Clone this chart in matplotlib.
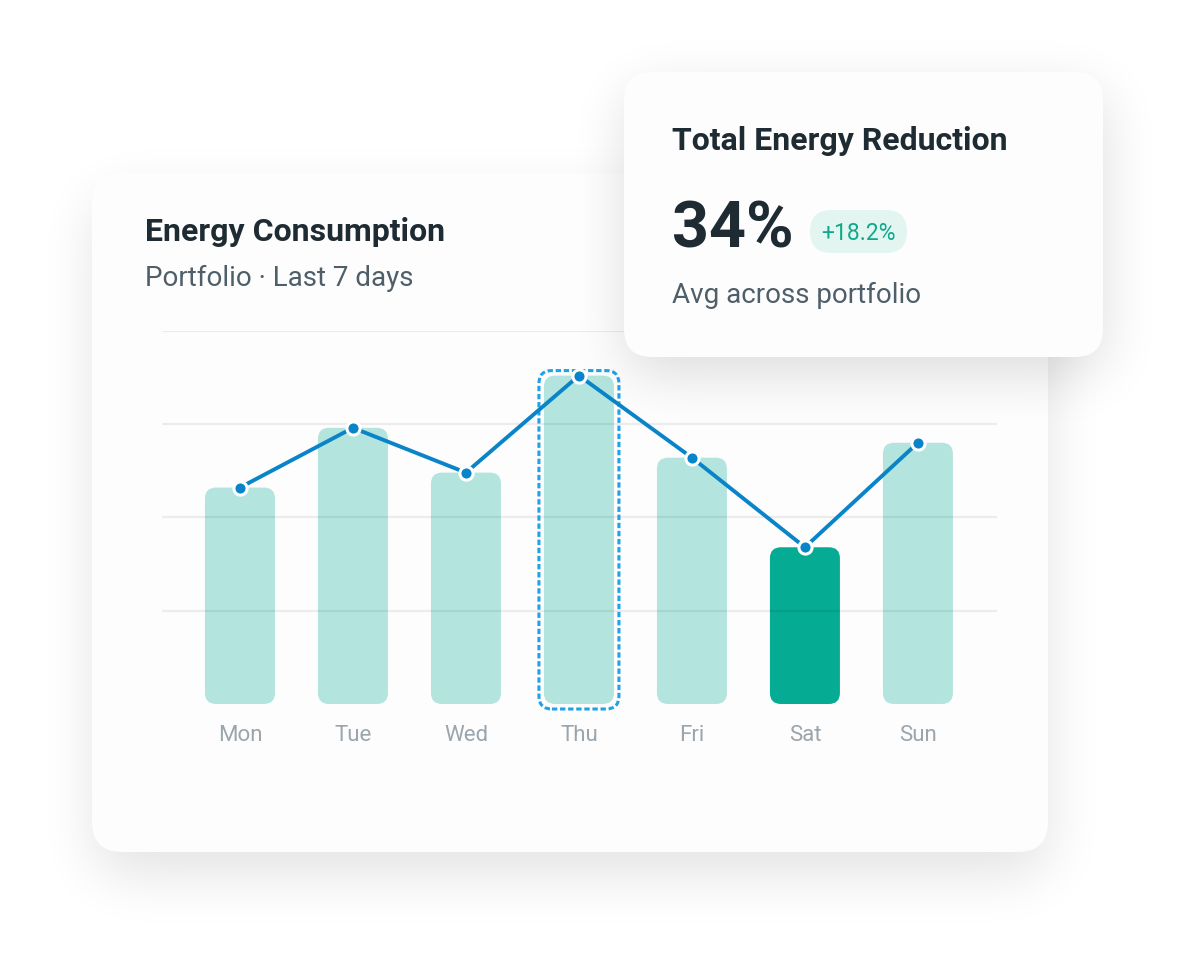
import matplotlib
matplotlib.use("Agg")
import matplotlib.pyplot as plt
from matplotlib.patches import FancyBboxPatch
import numpy as np

# ---------------- data ----------------
days = ["Mon", "Tue", "Wed", "Thu", "Fri", "Sat", "Sun"]
consumption = [58, 74, 62, 88, 66, 42, 70]
highlight_day = "Thu"
lowest_day = "Sat"
grid_levels = [25, 50, 75, 100]

title = "Energy Consumption"
subtitle = "Portfolio \u00b7 Last 7 days"
kpi_title = "Total Energy Reduction"
kpi_value = "34%"
kpi_delta = "+18.2%"
kpi_caption = "Avg across portfolio"

# ---------------- style ----------------
plt.rcParams['font.family'] = ['Roboto', 'DejaVu Sans']
W, H = 1200, 968
DPI = 100
BAR_LIGHT = "#b3e5de"
BAR_DARK = "#05ab92"
LINE = "#0a84c9"
DASH = "#1fa2e8"
DARK = "#1f2b33"
SLATE = "#4f5f6a"
TICK = "#9aa5ad"
CARD = "#fdfdfd"

fig = plt.figure(figsize=(W / DPI, H / DPI), dpi=DPI)
fig.patch.set_facecolor("white")

YY, XX = np.mgrid[0:H, 0:W] + 0.5


def rr_mask(x0, y0, x1, y1, r):
    cx, cy = (x0 + x1) / 2, (y0 + y1) / 2
    hw, hh = (x1 - x0) / 2, (y1 - y0) / 2
    dx = np.maximum(np.abs(XX - cx) - (hw - r), 0)
    dy = np.maximum(np.abs(YY - cy) - (hh - r), 0)
    return (np.hypot(dx, dy) <= r).astype(float)


def box_blur(a, w, axis):
    w = max(int(w), 1)
    pad = w
    a = np.pad(a, [(pad, pad) if i == axis else (0, 0) for i in range(2)])
    c = np.cumsum(a, axis=axis)
    c = np.insert(c, 0, 0, axis=axis)
    n = a.shape[axis]
    lo = np.arange(n) - w // 2
    hi = lo + w
    lo = np.clip(lo, 0, n); hi = np.clip(hi, 0, n)
    out = (np.take(c, hi, axis=axis) - np.take(c, lo, axis=axis)) / w
    sl = [slice(None)] * 2
    sl[axis] = slice(pad, pad + (n - 2 * pad))
    return out[tuple(sl)]


def shadow_img(ax, x0, y0, x1, y1, r, dy, sigma, amax):
    m = rr_mask(x0, y0 + dy, x1, y1 + dy, r)
    w = 2 * sigma
    for _ in range(3):
        m = box_blur(m, w, 0)
        m = box_blur(m, w, 1)
    rgba = np.zeros((H, W, 4))
    rgba[..., 3] = np.clip(m, 0, 1) * amax
    ax.imshow(rgba, extent=(0, W, H, 0), interpolation="bilinear", zorder=0.5, aspect="auto")


def card(ax, x0, y0, x1, y1, r, fc):
    ax.add_patch(FancyBboxPatch((x0, y0), x1 - x0, y1 - y0,
                                boxstyle=f"round,pad=0,rounding_size={r}",
                                fc=fc, ec="none", zorder=1))


# background layer (pixel coordinates)
bg = fig.add_axes([0, 0, 1, 1], zorder=0)
shadow_img(bg, 92, 173, 1048, 852, 30, 22, 26, 0.11)
bg.set_xlim(0, W); bg.set_ylim(H, 0); bg.axis("off")
card(bg, 92, 173, 1048, 852, 30, CARD)
bg.text(145, 241, title, fontsize=23, fontweight="bold", color=DARK, va="baseline", ha="left", zorder=2)
bg.text(145, 286, subtitle, fontsize=20, color=SLATE, va="baseline", ha="left", zorder=2)

# ---------------- chart axes ----------------
L, R, T, B = 162, 997, 330.8, 704
ax = fig.add_axes([L / W, (H - B) / H, (R - L) / W, (B - T) / H], zorder=2)
ax.set_facecolor("none")
x = np.arange(len(days))
ax.set_xlim(-0.69, 6.70)
ax.set_ylim(0, 100)
for s in ax.spines.values():
    s.set_visible(False)
ax.set_yticks([])
ax.set_xticks(x)
ax.set_xticklabels(days, fontsize=16, color=TICK)
ax.tick_params(axis="x", length=0, pad=15)
for g in grid_levels:
    ax.axhline(g, color="black", alpha=0.065, lw=1.6, zorder=1.5)

px_x = (R - L) / (6.70 + 0.69)
px_y = (B - T) / 100.0
asp = px_x / px_y
bw = 70 / px_x
r_bar = 11 / px_x
for i, (d, v) in enumerate(zip(days, consumption)):
    col = BAR_DARK if d == lowest_day else BAR_LIGHT
    ax.add_patch(FancyBboxPatch((i - bw / 2, 0), bw, v,
                                boxstyle=f"round,pad=0,rounding_size={r_bar}",
                                mutation_aspect=asp, fc=col, ec="none", zorder=1))
    if d == highlight_day:
        padx = 5 / px_x
        pady = 5 / px_y
        ax.add_patch(FancyBboxPatch((i - bw / 2 - padx, -pady), bw + 2 * padx, v + 2 * pady,
                                    boxstyle=f"round,pad=0,rounding_size={13 / px_x}",
                                    mutation_aspect=asp, fc="none", ec=DASH, lw=2.2,
                                    linestyle=(0, (1.75, 0.9)), zorder=2, clip_on=False))

ax.plot(x, consumption, color=LINE, lw=2.8, marker="o", ms=9.5, mfc=LINE, mec="white",
        mew=2.2, zorder=3, clip_on=False, solid_joinstyle="round")

# ---------------- KPI card (on top) ----------------
top = fig.add_axes([0, 0, 1, 1], zorder=4)
top.set_facecolor("none")
shadow_img(top, 624, 72, 1103, 357, 28, 16, 26, 0.13)
top.set_xlim(0, W); top.set_ylim(H, 0); top.axis("off")
card(top, 624, 72, 1103, 357, 28, CARD)
top.text(672, 150, kpi_title, fontsize=23, fontweight="bold", color=DARK, va="baseline", zorder=2)
top.text(672, 248, kpi_value, fontsize=46.5, fontweight="bold", color=DARK, va="baseline", zorder=2)
top.add_patch(FancyBboxPatch((810, 210), 97, 43, boxstyle="round,pad=0,rounding_size=21.5",
                             fc="#e2f5f1", ec="none", zorder=2))
top.text(858.5, 240.5, kpi_delta, fontsize=16.5, color="#10a88b", va="baseline", ha="center", zorder=3)
top.text(672, 303, kpi_caption, fontsize=20, color=SLATE, va="baseline", zorder=2)

fig.savefig("out.png", dpi=DPI, facecolor="white")
